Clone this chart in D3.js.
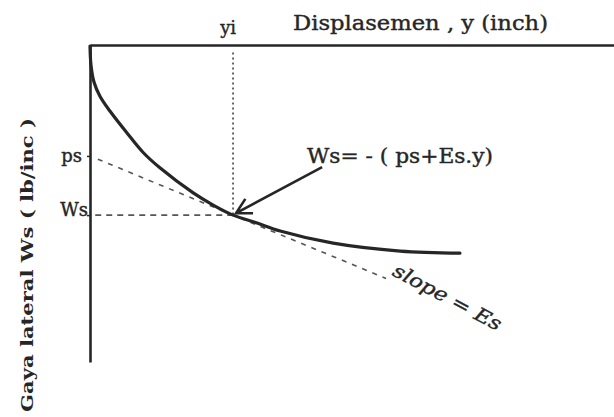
<!DOCTYPE html>
<html><head><meta charset="utf-8">
<script src="https://cdn.jsdelivr.net/npm/d3@7"></script>
<style>body{margin:0;background:#fff}svg{display:block}</style>
</head><body>
<svg id="chart" width="614" height="417"></svg>
<script>
// p-y style curve: lateral force Ws against displacement y (schematic units)
const curveY  = [0, 0.19, 0.76, 1.9, 3.8, 7.1, 10.1, 13.4, 19.7, 23.5, 27.3, 31.9, 36.3, 46.4, 59.2, 70.6];
const curveWs = [-0.2, -3.8, -7.0, -9.7, -12.5, -16.7, -20.3, -23.3, -28.0, -30.3, -32.2, -33.7, -35.2, -37.5, -39.0, -39.4];

// Reference point on the curve and its tangent
const yiValue = 27.3;      // displacement yi
const wsValue = -32.2;     // Ws at yi
const psValue = -21.0;     // tangent intercept ps
const tangentX = [1.5, 56.5];

// Axis tick labels
const xTickLabels = ["yi"];
const yTickLabels = ["ps", "Ws"];

const ink = "#262626";
const svg = d3.select("#chart");
const x = d3.scaleLinear().domain([0, 100]).range([90, 614]);
const y = d3.scaleLinear().domain([0, -60]).range([45, 362]);
const serif = "'DejaVu Serif', 'Liberation Serif', serif";

// Tangent line: Ws = ps + Es*y through (yi, Ws)
const Es = (wsValue - psValue) / yiValue;
svg.append("path")
  .attr("d", d3.line()(tangentX.map(t => [x(t), y(psValue + Es * t)])))
  .attr("fill", "none").attr("stroke", "#555").attr("stroke-width", 1.6)
  .attr("stroke-dasharray", "5,6");

// Horizontal guide at Ws
svg.append("line")
  .attr("x1", x(1)).attr("x2", x(yiValue))
  .attr("y1", y(wsValue)).attr("y2", y(wsValue))
  .attr("stroke", "#555").attr("stroke-width", 1.6).attr("stroke-dasharray", "6,5");

// Vertical dotted guide at yi
svg.append("line")
  .attr("x1", x(yiValue)).attr("x2", x(yiValue))
  .attr("y1", y(-1.4)).attr("y2", y(wsValue))
  .attr("stroke", "#555").attr("stroke-width", 1.8).attr("stroke-dasharray", "2,3");

// Axes
const topAxis = svg.append("g").attr("transform", `translate(0,${y(0)})`)
  .call(d3.axisTop(x).tickValues([yiValue]).tickFormat((d, i) => xTickLabels[i])
    .tickSize(0).tickSizeOuter(0).tickPadding(11));
const leftAxis = svg.append("g").attr("transform", `translate(${x(0)},0)`)
  .call(d3.axisLeft(y).tickValues([psValue, wsValue]).tickFormat((d, i) => yTickLabels[i])
    .tickSize(3).tickSizeOuter(0).tickPadding(4));
[topAxis, leftAxis].forEach(g => {
  g.select(".domain").attr("stroke", ink).attr("stroke-width", 2.6);
  g.selectAll(".tick line").attr("stroke", ink).attr("stroke-width", 1.5);
  g.selectAll("text").attr("fill", ink).attr("font-family", serif)
    .attr("font-size", 18).attr("font-weight", "normal")
    .attr("stroke", ink).attr("stroke-width", 0.4);
});
topAxis.selectAll(".tick text").attr("dx", "-0.3em");
leftAxis.selectAll(".tick text").filter((d, i) => i === 1).attr("dy", "0em").attr("x", -2);
leftAxis.selectAll(".tick text").filter((d, i) => i === 0).attr("x", -8);

// Curve
svg.append("path")
  .datum(curveY.map((v, i) => [v, curveWs[i]]))
  .attr("d", d3.line().x(d => x(d[0])).y(d => y(d[1])).curve(d3.curveCatmullRom.alpha(0.5)))
  .attr("fill", "none").attr("stroke", ink).attr("stroke-width", 3.2)
  .attr("stroke-linecap", "round");

// Arrow pointing at (yi, Ws)
const tail = [x(44.3), y(-23.1)], tip = [x(yiValue) + 3, y(wsValue) - 2];
const ang = Math.atan2(tail[1] - tip[1], tail[0] - tip[0]);
const arm = 17, spread = 0.5;
svg.append("path")
  .attr("d", `M${tail}L${tip}` +
    `M${tip[0] + arm * Math.cos(ang - spread)},${tip[1] + arm * Math.sin(ang - spread)}L${tip}` +
    `L${tip[0] + arm * Math.cos(ang + spread)},${tip[1] + arm * Math.sin(ang + spread)}`)
  .attr("fill", "none").attr("stroke", ink).attr("stroke-width", 2.6)
  .attr("stroke-linejoin", "miter");

// Text labels
const labels = svg.append("g").attr("fill", ink).attr("stroke", ink)
  .attr("stroke-width", 0.4).attr("font-family", serif);

labels.append("text").text("Displasemen , y (inch)")
  .attr("x", 293).attr("y", 30).attr("textLength", 255).attr("lengthAdjust", "spacingAndGlyphs")
  .attr("font-size", 20);

labels.append("text").text("Ws= - ( ps+Es.y)")
  .attr("x", 307).attr("y", 163).attr("textLength", 186).attr("lengthAdjust", "spacingAndGlyphs")
  .attr("font-size", 20);

labels.append("text").text("slope = Es")
  .attr("transform", `translate(${x(57.5)},${y(-43.5)}) rotate(28)`)
  .attr("textLength", 120).attr("lengthAdjust", "spacingAndGlyphs")
  .attr("font-size", 19).attr("font-style", "italic");

labels.append("text").text("Gaya lateral Ws ( lb/inc )")
  .attr("transform", "translate(33,412) rotate(-90)")
  .attr("textLength", 294).attr("lengthAdjust", "spacingAndGlyphs")
  .attr("font-size", 17).attr("font-weight", "bold").attr("stroke-width", 0);
</script>
</body></html>
